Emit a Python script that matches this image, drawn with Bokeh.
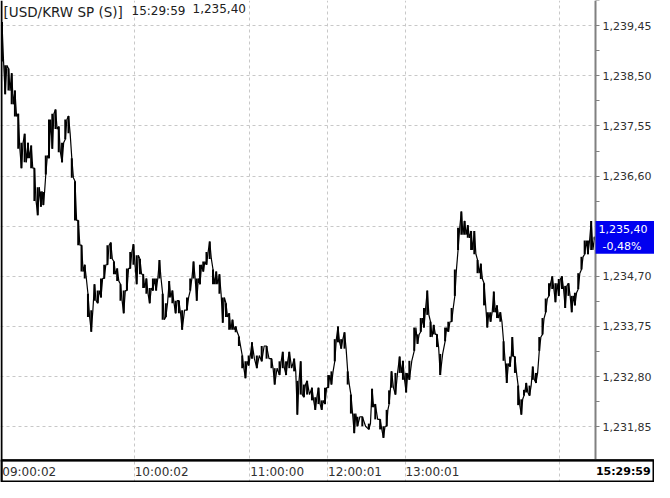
from bokeh.plotting import figure
from bokeh.models import Range1d, FixedTicker, Grid, Label, BoxAnnotation
from bokeh.embed import file_html
from bokeh.resources import INLINE

# ---- data (tick-sequence position, high / low of each small slice) ----
bin_tick = [0, 3.3, 6.7, 10, 13.3, 16.7, 20, 23.3, 26.7, 30, 33.3, 36.7, 40, 42.5, 45, 48.3, 51.7, 55,
            58.3, 61.7, 65, 68.3, 71.7, 75, 78.3, 81.7, 85, 88.3, 91.7, 95, 98.3, 101.7, 105, 108.3,
            111.7, 115, 118.3, 121.7, 125, 128.3, 131.7, 135, 138.3, 141.7, 145, 148.3, 151.7, 155,
            158.3, 161.7, 165, 168.3, 171.7, 175, 178.3, 181.7, 185, 190, 193.3, 196.7, 200, 203.3,
            206.7, 210, 213.3, 216.7, 220, 223.3, 226.7, 230, 233.3, 236.7, 240, 243.3, 246.7, 250,
            253.3, 256.7, 261.7, 266.7, 271.7, 276.7, 280, 285, 288.3, 291.7, 295, 300, 303.3, 306.7,
            310, 313.3, 318.3, 321.7, 325, 328.3, 331.7, 335, 338.3, 341.7, 345, 348.3, 351.7, 355,
            358.3, 361.7, 365, 370, 376.7, 380, 383.3, 388.3, 391.7, 395, 397.5, 400, 404, 408.3,
            411.7, 415, 418.3, 423.3, 426.7, 430, 433.3, 436.7, 440, 443.3, 446.7, 450, 455, 458.3,
            461.7, 465, 468.3, 471.7, 475, 478.3, 481.7, 485, 488.3, 491.7, 495, 498.3, 501.7, 505,
            508.3, 511.7, 515, 518.3, 521.7, 524, 526.7, 530, 533.3, 536, 538.3, 541.7, 545, 548.3,
            551.7, 555, 558.3, 561.7, 565, 568.3, 571.7, 575, 578.3, 581.7, 585, 588.3, 591.7, 595,
            598.3, 601.7, 605, 608.5]
bin_high = [1239.52, 1238.70, 1238.64, 1238.55, 1238.22, 1237.78, 1237.23, 1237.40, 1237.23, 1237.18,
            1236.75, 1236.39, 1236.31, 1236.30, 1236.99, 1237.67, 1237.78, 1237.86, 1237.54, 1237.23,
            1237.67, 1237.74, 1236.94, 1236.50, 1235.76, 1235.29, 1234.92, 1234.37, 1234.06, 1234.55,
            1234.43, 1234.66, 1234.92, 1235.29, 1235.34, 1234.98, 1234.85, 1234.55, 1234.43, 1234.85,
            1235.16, 1235.31, 1235.10, 1235.03, 1234.74, 1234.66, 1234.48, 1234.66, 1234.66, 1235.01,
            1234.37, 1234.19, 1234.61, 1234.43, 1234.24, 1234.24, 1234.06, 1234.30, 1234.66, 1234.98,
            1234.66, 1234.92, 1234.98, 1235.16, 1235.36, 1234.83, 1234.79, 1234.74, 1234.30, 1234.19,
            1234.00, 1233.88, 1233.75, 1233.56, 1233.20, 1233.09, 1233.20, 1233.45, 1233.20, 1233.38,
            1233.38, 1233.14, 1232.96, 1233.09, 1233.27, 1233.09, 1233.27, 1233.14, 1232.72, 1233.09,
            1232.65, 1232.72, 1232.59, 1232.41, 1232.59, 1232.35, 1232.59, 1232.83, 1232.90, 1233.51,
            1233.75, 1233.51, 1233.64, 1232.90, 1232.46, 1232.10, 1232.04, 1232.04, 1231.91, 1232.57,
            1232.28, 1231.99, 1231.86, 1232.17, 1232.54, 1232.90, 1232.87, 1233.18, 1233.10, 1232.87,
            1233.10, 1233.73, 1233.60, 1233.91, 1234.10, 1234.43, 1233.84, 1233.78, 1233.60, 1233.23,
            1233.73, 1233.84, 1234.10, 1234.83, 1235.62, 1235.93, 1235.75, 1235.67, 1235.56, 1235.56,
            1235.01, 1234.94, 1234.57, 1234.02, 1234.02, 1234.41, 1234.15, 1234.02, 1233.47, 1233.05,
            1233.18, 1233.55, 1233.18, 1232.63, 1232.37, 1232.55, 1232.68, 1232.63, 1232.99, 1232.87,
            1233.55, 1233.91, 1234.28, 1234.57, 1234.70, 1234.57, 1234.65, 1234.70, 1234.52, 1234.57,
            1234.33, 1234.39, 1234.76, 1235.07, 1235.38, 1235.38, 1235.75, 1235.45]
bin_low = [1238.77, 1238.15, 1238.22, 1237.96, 1237.73, 1237.12, 1236.75, 1236.86, 1236.94, 1236.75,
           1236.13, 1235.86, 1236.02, 1236.05, 1236.63, 1236.94, 1237.12, 1237.49, 1237.05, 1236.86,
           1237.30, 1237.41, 1236.57, 1235.76, 1235.29, 1234.79, 1234.66, 1233.93, 1233.65, 1234.24,
           1234.19, 1234.30, 1234.66, 1234.92, 1235.03, 1234.74, 1234.61, 1234.24, 1234.00, 1234.43,
           1234.85, 1234.92, 1234.55, 1234.74, 1234.48, 1234.37, 1234.19, 1234.43, 1234.43, 1234.66,
           1233.88, 1233.93, 1234.30, 1234.19, 1234.00, 1234.00, 1233.69, 1234.06, 1234.43, 1234.66,
           1234.24, 1234.55, 1234.79, 1234.92, 1235.03, 1234.55, 1234.55, 1234.37, 1233.82, 1233.93,
           1233.69, 1233.69, 1233.64, 1233.38, 1232.96, 1232.77, 1233.01, 1233.14, 1232.96, 1233.09,
           1233.14, 1232.96, 1232.65, 1232.83, 1232.96, 1232.83, 1232.96, 1232.90, 1232.08, 1232.46,
           1232.41, 1232.46, 1232.35, 1232.17, 1232.28, 1232.17, 1232.28, 1232.59, 1232.65, 1233.09,
           1233.45, 1233.33, 1233.33, 1232.65, 1232.10, 1231.73, 1231.86, 1231.86, 1231.80, 1232.22,
           1231.99, 1231.80, 1231.64, 1231.86, 1232.28, 1232.59, 1232.46, 1232.87, 1232.74, 1232.50,
           1232.74, 1233.29, 1233.42, 1233.65, 1233.73, 1233.97, 1233.55, 1233.60, 1233.36, 1232.83,
           1233.47, 1233.65, 1233.84, 1234.33, 1235.20, 1235.49, 1235.49, 1235.43, 1235.20, 1235.12,
           1234.76, 1234.65, 1234.15, 1233.73, 1233.84, 1234.02, 1233.91, 1233.84, 1233.10, 1232.68,
           1232.99, 1233.18, 1232.87, 1232.26, 1232.08, 1232.44, 1232.50, 1232.44, 1232.74, 1232.68,
           1233.29, 1233.60, 1234.02, 1234.33, 1234.46, 1234.21, 1234.33, 1234.46, 1234.10, 1234.33,
           1234.02, 1234.15, 1234.46, 1234.83, 1235.12, 1235.12, 1235.20, 1235.40]

last_price = 1235.40
change_text = "-0,48%"
header_name = "[USD/KRW SP (S)]"
header_time = "15:29:59"
header_price = "1,235,40"

price_ticks = [1231.85, 1232.80, 1233.75, 1234.70, 1235.65, 1236.60, 1237.55, 1238.50, 1239.45]
price_labels = ["1,231,85", "1,232,80", "1,233,75", "1,234,70", "1,235,65",
                "1,236,60", "1,237,55", "1,238,50", "1,239,45"]
time_ticks = [0, 136, 254.5, 334.5, 414]
time_labels = ["09:00:02", "10:00:02", "11:00:00", "12:00:01", "13:00:01"]
hour_grid = [136, 254.5, 334.5, 414, 572]
end_tick = 609
end_label = "15:29:59"

FONT = "DejaVu Sans"
W, H = 654, 482

# ---- zig-zag tick path from the high/low slices ----
xs, ys = [], []
n = len(bin_tick)
for i in range(n):
    t, hi, lo = bin_tick[i], bin_high[i], bin_low[i]
    if i + 1 < n:
        half = (bin_tick[i + 1] - t) / 2
        going_down = (bin_high[i + 1] + bin_low[i + 1]) < (hi + lo)
    else:
        half = 0.5
        going_down = True
    xs += [t, t + half]
    ys += [hi, lo] if going_down else [lo, hi]

# value ranges: price area + right price panel + bottom time band
x_start, x_end = -1.5, 670.0
axis_x = end_tick + 0.5
band_top = 1231.216
y_start, y_end = 1230.794, 1239.927

p = figure(width=W, height=H, output_backend="svg", toolbar_location=None,
           x_range=Range1d(x_start, x_end), y_range=Range1d(y_start, y_end),
           y_axis_location="right", x_axis_location="below",
           min_border_left=0, min_border_top=0, min_border_bottom=0, min_border_right=0)
p.outline_line_color = None
p.background_fill_color = "white"
p.border_fill_color = "white"

# right price axis, drawn at the end of the session
yax = p.yaxis[0]
yax.fixed_location = axis_x
yax.bounds = (band_top, y_end)
yax.ticker = FixedTicker(ticks=price_ticks, minor_ticks=[v + 0.475 for v in price_ticks])
yax.major_label_overrides = {v: s for v, s in zip(price_ticks, price_labels)}
yax.axis_line_color = "#808080"
yax.axis_line_width = 2
yax.major_tick_line_color = "#808080"
yax.minor_tick_line_color = "#808080"
yax.major_tick_in = 0
yax.major_tick_out = 4
yax.minor_tick_in = 0
yax.minor_tick_out = 4
yax.major_label_standoff = 3
yax.major_label_text_font = FONT
yax.major_label_text_font_size = "11px"
yax.major_label_text_color = "#303030"

# bottom time axis (labels start at their hour line)
xax = p.xaxis[0]
xax.fixed_location = band_top
label_pos = [t + 28 for t in time_ticks]
xax.ticker = FixedTicker(ticks=label_pos, minor_ticks=[])
xax.major_label_overrides = {v: s for v, s in zip(label_pos, time_labels)}
xax.axis_line_color = "black"
xax.axis_line_width = 2
xax.major_tick_line_color = None
xax.minor_tick_line_color = None
xax.major_tick_in = 0
xax.major_tick_out = 0
xax.minor_tick_in = 0
xax.minor_tick_out = 0
xax.major_label_standoff = 5
xax.major_label_text_font = FONT
xax.major_label_text_font_size = "12px"
xax.major_label_text_color = "#303030"

# grids
p.xgrid[0].visible = False
p.add_layout(Grid(dimension=0, ticker=FixedTicker(ticks=hour_grid), grid_line_color="#c8c8c8",
                  grid_line_dash="3 3", grid_line_width=1))
p.ygrid[0].grid_line_color = "#c8c8c8"
p.ygrid[0].grid_line_dash = "3 3"

# keep the price panel clear of the horizontal grid lines
p.add_layout(BoxAnnotation(left=axis_x, right=x_end, bottom=band_top, top=y_end,
                           fill_color="white", fill_alpha=1, line_color=None, level="underlay"))

# price path: slice ranges + connecting path
p.segment(x0=bin_tick, y0=bin_low, x1=bin_tick, y1=bin_high, line_color="black", line_width=2)
p.line(xs, ys, line_color="black", line_width=1.2)

# frame borders
p.add_layout(BoxAnnotation(left=0, right=2, top=0, bottom=H, left_units="canvas",
                           right_units="canvas", top_units="canvas", bottom_units="canvas",
                           fill_color="black", fill_alpha=1, line_color=None))
p.add_layout(BoxAnnotation(left=1, right=W - 1, top=band_top, bottom=H - 1, left_units="canvas",
                           right_units="canvas", top_units="data", bottom_units="canvas",
                           fill_color=None, line_color="black", line_width=2, line_alpha=1))

# last price tag
p.add_layout(BoxAnnotation(left=axis_x, right=x_end, top=last_price + 0.35, bottom=last_price - 0.27,
                           fill_color="#0000f0", fill_alpha=1, line_color=None))
p.add_layout(Label(x=axis_x, y=last_price, x_offset=3, y_offset=10,
                   text=f"{last_price:,.2f}".replace(".", ","), text_color="white",
                   text_font=FONT, text_font_size="11px", text_baseline="middle", text_align="left"))
p.add_layout(Label(x=axis_x, y=last_price, x_offset=7, y_offset=-7, text=change_text,
                   text_color="white", text_font=FONT, text_font_size="11px",
                   text_baseline="middle", text_align="left"))

# header
for txt, px, fs in [(header_name, 3, "13.5px"), (header_time, 131, "12px"), (header_price, 192, "12px")]:
    p.add_layout(Label(x=px, y=3, x_units="canvas", y_units="canvas", text=txt,
                       text_color="#202020", text_font=FONT, text_font_size=fs,
                       text_baseline="top", text_align="left"))

# last time label (bold, right)
p.add_layout(Label(x=x_end - 4, y=band_top, y_offset=-11, text=end_label,
                   text_color="black", text_font=FONT, text_font_size="11px", text_font_style="bold",
                   text_baseline="middle", text_align="right"))

open("out.html", "w").write(file_html(p, INLINE))
